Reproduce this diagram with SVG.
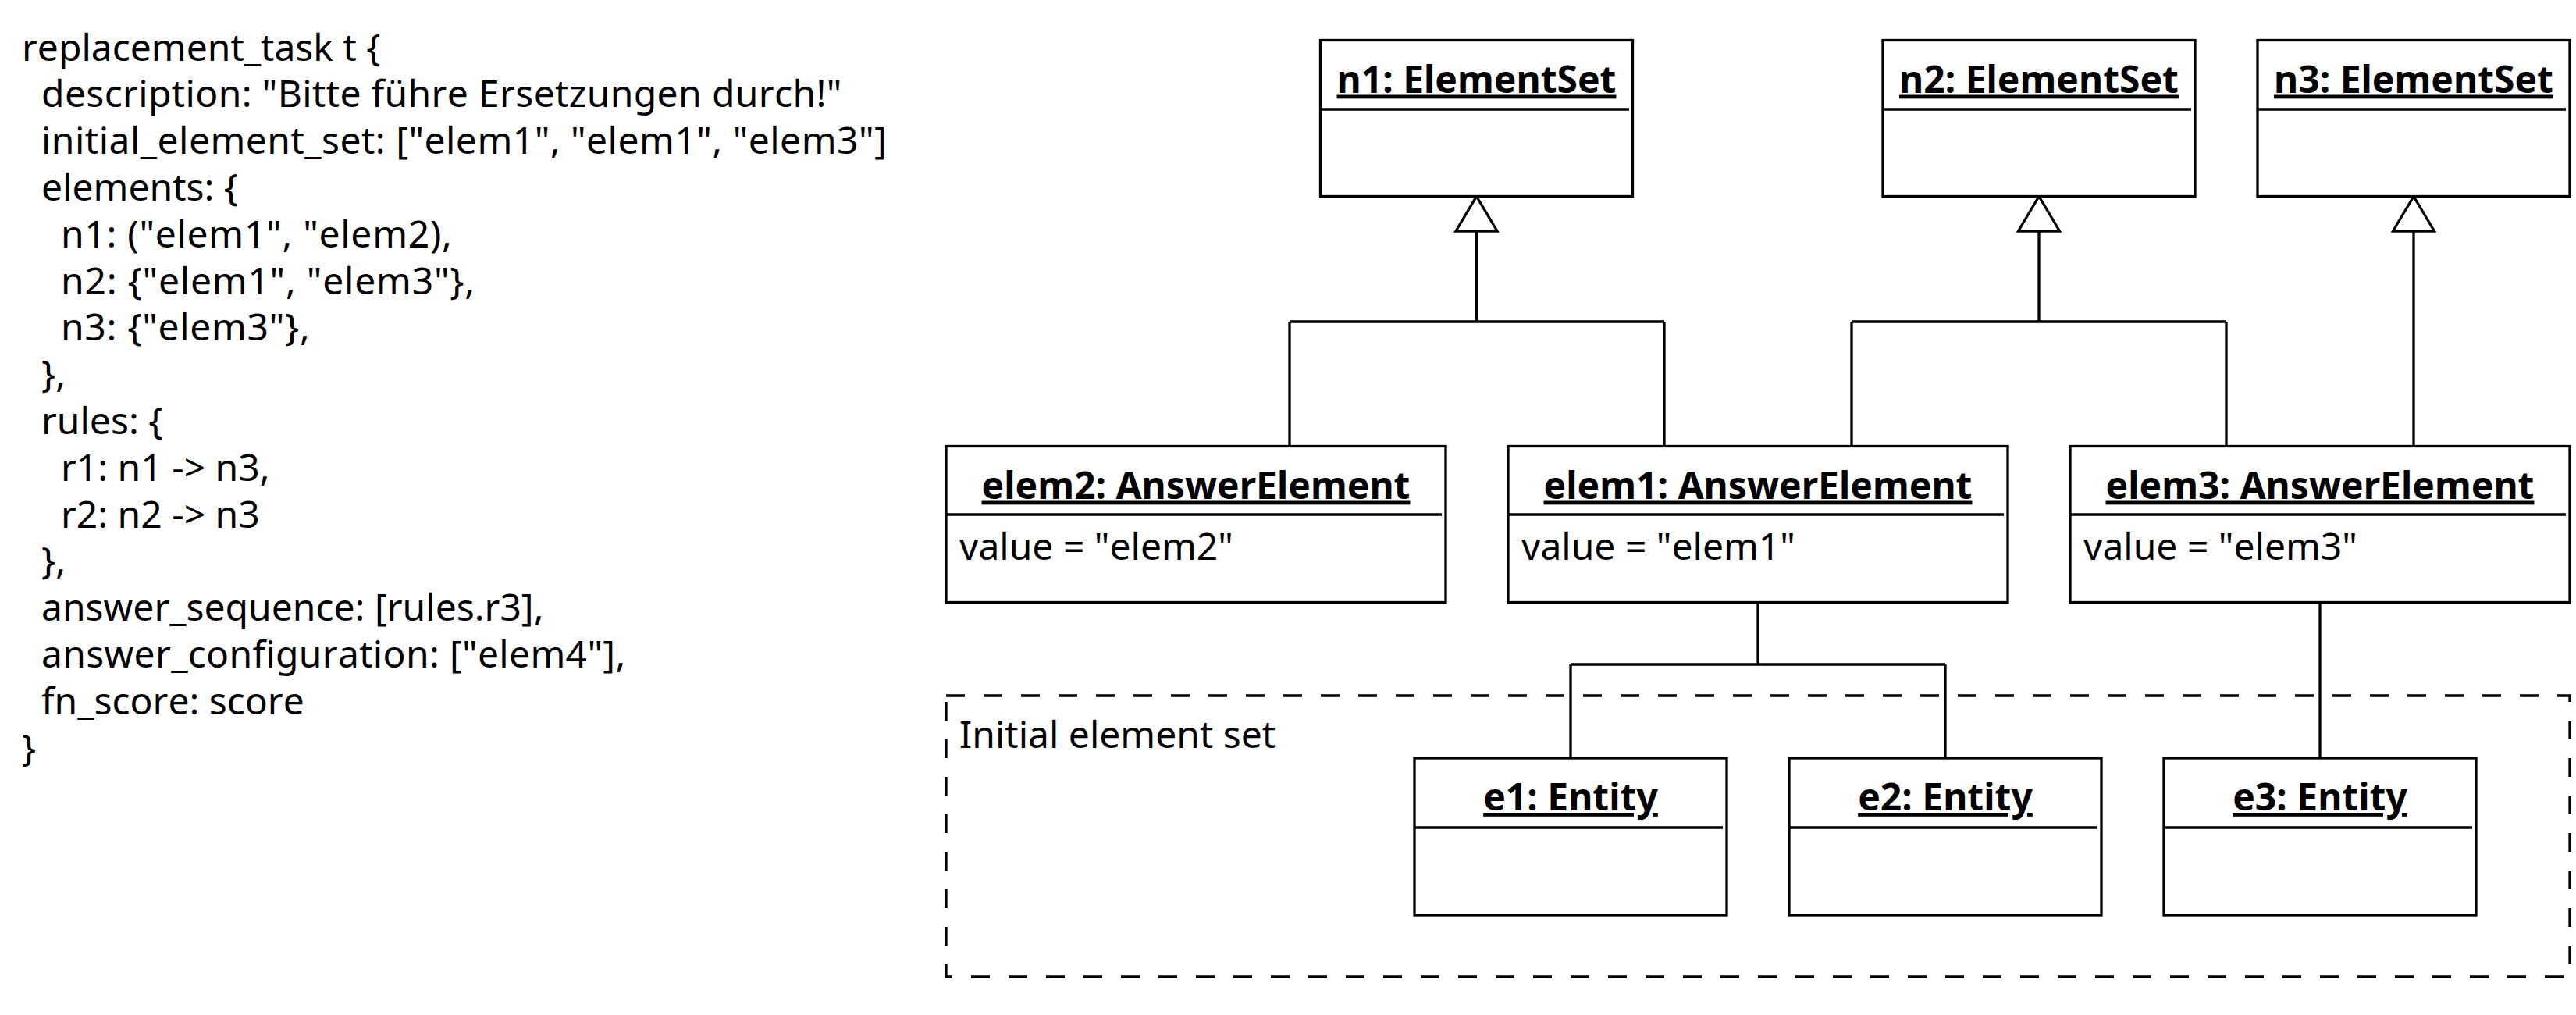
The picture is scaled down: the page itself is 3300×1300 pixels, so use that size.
<svg xmlns="http://www.w3.org/2000/svg" width="3300" height="1300" viewBox="0 0 3300 1300">
<style>
text{font-family:"Noto Sans","Open Sans","DejaVu Sans",sans-serif;font-size:48px;fill:#000;font-kerning:none;font-feature-settings:"kern" 0}
.t{font-weight:bold;text-anchor:middle;text-decoration:underline}
.box{fill:#fff;stroke:#000;stroke-width:3.3}
.div{stroke:#000;stroke-width:3.3}
.ln{fill:none;stroke:#000;stroke-width:3.3}
.tri{fill:#fff;stroke:#000;stroke-width:3.3;stroke-linejoin:miter}
.dash{fill:none;stroke:#000;stroke-width:3.3;stroke-dasharray:24 24}
</style>
<rect width="3300" height="1300" fill="#fff"/>
<g id="code">
<text x="28" y="77.5">replacement_task t {</text>
<text x="53" y="137.3" letter-spacing="0.36">description: "Bitte führe Ersetzungen durch!"</text>
<text x="53" y="197.1" letter-spacing="0.47">initial_element_set: ["elem1", "elem1", "elem3"]</text>
<text x="53" y="256.9">elements: {</text>
<text x="78" y="316.7" letter-spacing="0.71">n1: ("elem1", "elem2),</text>
<text x="78" y="376.5" letter-spacing="0.77">n2: {"elem1", "elem3"},</text>
<text x="78" y="436.3" letter-spacing="0.69">n3: {"elem3"},</text>
<text x="53" y="496.1">},</text>
<text x="53" y="555.9">rules: {</text>
<text x="78" y="615.7">r1: n1 -&gt; n3,</text>
<text x="78" y="675.5">r2: n2 -&gt; n3</text>
<text x="53" y="735.3">},</text>
<text x="53" y="795.1">answer_sequence: [rules.r3],</text>
<text x="53" y="854.9" letter-spacing="0.32">answer_configuration: ["elem4"],</text>
<text x="53" y="914.7">fn_score: score</text>
<text x="28" y="974.5">}</text>
</g>
<g id="initial_set">
<rect class="dash" x="1212" y="891" width="2080" height="360"/>
<text x="1229" y="957.5">Initial element set</text>
</g>
<g id="connectors">
<path class="ln" d="M1891.5 296V412M1652 412H2132M1652 412V571.5M2132 412V571.5"/>
<polygon class="tri" points="1891.5,251.5 1918,296 1865,296"/>
<path class="ln" d="M2612 296V412M2372 412H2852M2372 412V571.5M2852 412V571.5"/>
<polygon class="tri" points="2612,251.5 2638.5,296 2585.5,296"/>
<path class="ln" d="M3092 296V571.5"/>
<polygon class="tri" points="3092,251.5 3118.5,296 3065.5,296"/>
<path class="ln" d="M2252 771.5V851M2012 851H2492M2012 851V971M2492 851V971M2972 771.5V971"/>
</g>
<g id="n1">
<rect class="box" x="1691.5" y="51.5" width="400" height="200"/>
<line class="div" x1="1691.5" y1="140" x2="2087" y2="140"/>
<text class="t" x="1891.5" y="118.5">n1: ElementSet</text>
</g>
<g id="n2">
<rect class="box" x="2412" y="51.5" width="400" height="200"/>
<line class="div" x1="2412" y1="140" x2="2807" y2="140"/>
<text class="t" x="2612" y="118.5">n2: ElementSet</text>
</g>
<g id="n3">
<rect class="box" x="2892" y="51.5" width="400" height="200"/>
<line class="div" x1="2892" y1="140" x2="3287" y2="140"/>
<text class="t" x="3092" y="118.5">n3: ElementSet</text>
</g>
<g id="elem2">
<rect class="box" x="1212" y="571.5" width="640" height="200"/>
<line class="div" x1="1212" y1="659" x2="1847" y2="659"/>
<text class="t" x="1532" y="638.5">elem2: AnswerElement</text>
<text x="1229" y="717">value = "elem2"</text>
</g>
<g id="elem1">
<rect class="box" x="1932" y="571.5" width="640" height="200"/>
<line class="div" x1="1932" y1="659" x2="2567" y2="659"/>
<text class="t" x="2252" y="638.5">elem1: AnswerElement</text>
<text x="1949" y="717">value = "elem1"</text>
</g>
<g id="elem3">
<rect class="box" x="2652" y="571.5" width="640" height="200"/>
<line class="div" x1="2652" y1="659" x2="3287" y2="659"/>
<text class="t" x="2972" y="638.5">elem3: AnswerElement</text>
<text x="2669" y="717">value = "elem3"</text>
</g>
<g id="e1">
<rect class="box" x="1812" y="971" width="400" height="201"/>
<line class="div" x1="1812" y1="1060" x2="2207" y2="1060"/>
<text class="t" x="2012" y="1038">e1: Entity</text>
</g>
<g id="e2">
<rect class="box" x="2292" y="971" width="400" height="201"/>
<line class="div" x1="2292" y1="1060" x2="2687" y2="1060"/>
<text class="t" x="2492" y="1038">e2: Entity</text>
</g>
<g id="e3">
<rect class="box" x="2772" y="971" width="400" height="201"/>
<line class="div" x1="2772" y1="1060" x2="3167" y2="1060"/>
<text class="t" x="2972" y="1038">e3: Entity</text>
</g>
</svg>
